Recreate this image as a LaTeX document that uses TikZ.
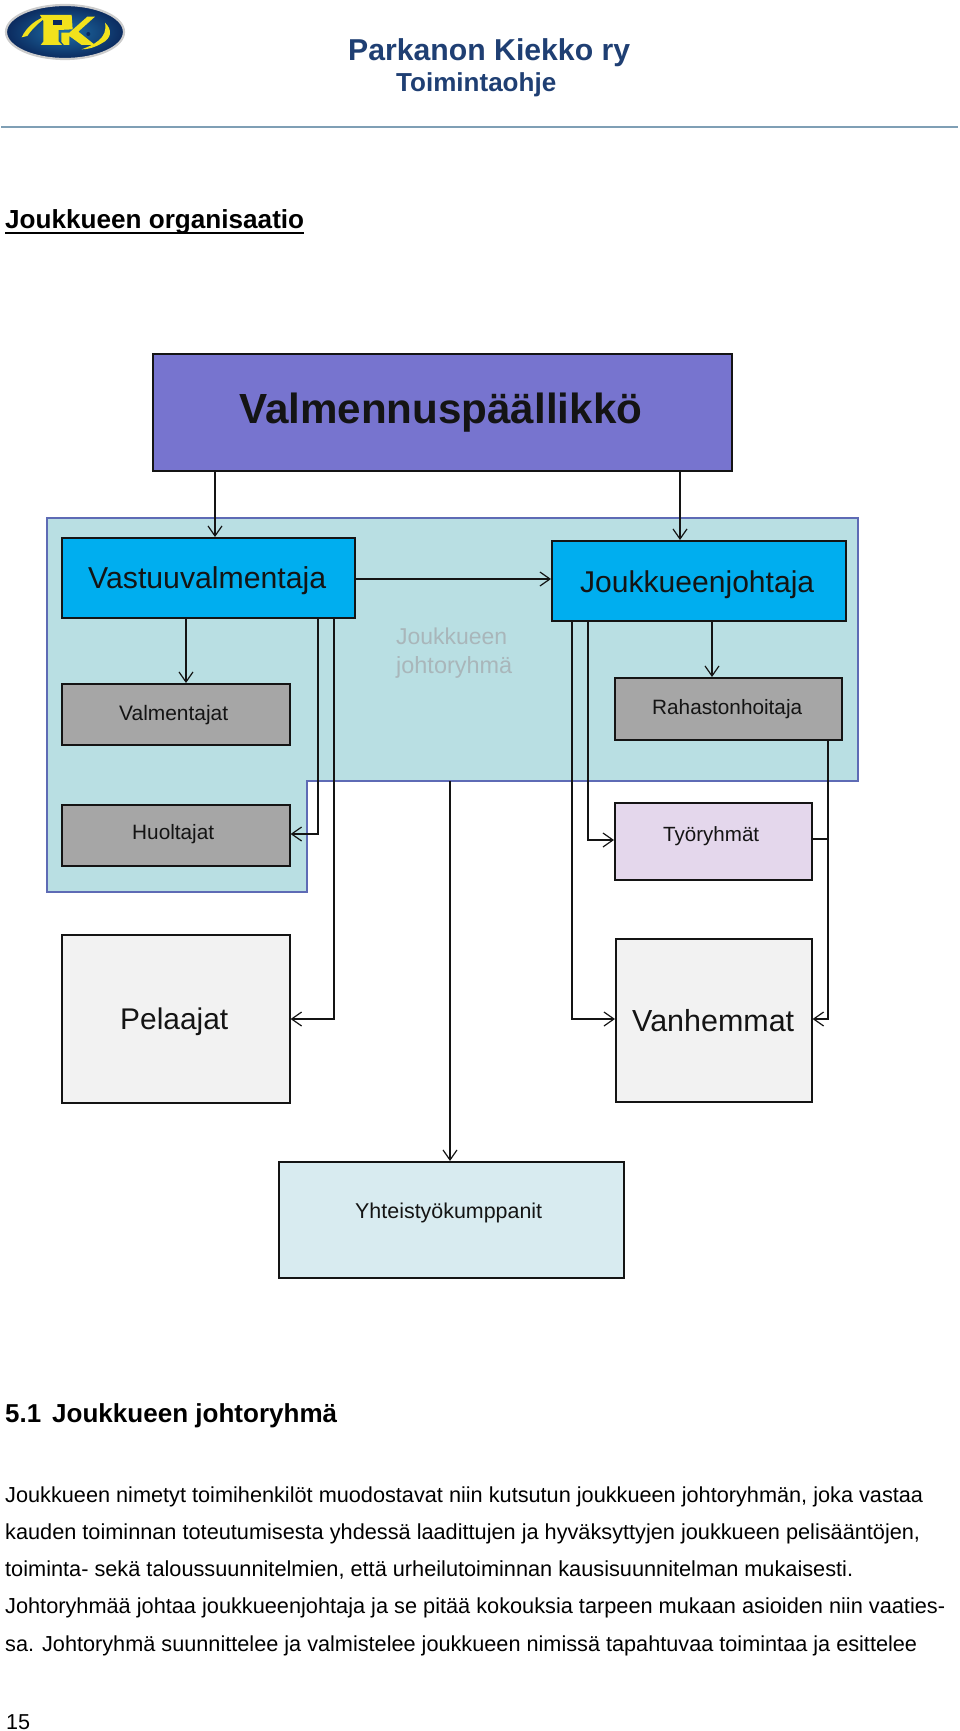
\documentclass[tikz,border=0pt]{standalone}
\usepackage{fontspec}
\setmainfont{Liberation Sans}
\usetikzlibrary{arrows.meta,calc,shapes.geometric}
\definecolor{headblue}{HTML}{1F3F73}
\definecolor{rulecol}{HTML}{7F9FB5}
\definecolor{purplebox}{HTML}{7774CF}
\definecolor{cyanbox}{HTML}{00AEEF}
\definecolor{groupfill}{HTML}{B9DFE3}
\definecolor{groupline}{HTML}{5E6BB5}
\definecolor{greybox}{HTML}{A6A6A6}
\definecolor{lilacbox}{HTML}{E4D7EC}
\definecolor{palebox}{HTML}{F2F2F2}
\definecolor{partnerbox}{HTML}{D8EBF0}
\definecolor{ghost}{HTML}{A9B6BA}
\definecolor{ink}{HTML}{141414}
\definecolor{logomid}{HTML}{1F6FA8}
\definecolor{logodark}{HTML}{0B2A5E}
\definecolor{logoyellow}{HTML}{F2E21C}
% #1 font switch, #2 target width (px), #3 text
\newcommand{\fitted}[3]{\setbox0=\hbox{#1\fontsize{10}{12}\selectfont #3}%
  \pgfmathsetmacro{\fsz}{10*(#2/\wd0)}%
  #1\fontsize{\fsz}{\fsz}\selectfont #3}
\tikzset{
  x=1pt,y=-1pt,
  boxbase/.style={draw=ink,line width=1.6pt,rectangle,inner sep=0pt,anchor=north west},
  lab/.style={anchor=base west,inner sep=0pt,text=ink},
  txt/.style={anchor=base west,inner sep=0pt,text=black},
  conn/.style={draw=ink,line width=1.4pt,-{Straight Barb[length=10pt,width=14pt,line width=1.2pt]}},
  plainconn/.style={draw=ink,line width=1.4pt},
}
\newcommand{\bx}[6]{% name, fill, x0, y0, x1, y1
  \pgfmathsetmacro{\bw}{#5-#3}\pgfmathsetmacro{\bh}{#6-#4}
  \node[boxbase,fill=#2,minimum width=\bw pt,minimum height=\bh pt] (#1) at (#3,#4) {};}
\begin{document}
\begin{tikzpicture}
\useasboundingbox (0,0) rectangle (960,1731);
% logo
\shade[inner color=logomid,outer color=logodark,draw=gray!40,line width=2.2pt] (65,32) ellipse (59 and 27);
\begin{scope}[x=0.3333pt,y=-0.3333pt,logoyellow]
\fill (65,112) .. controls (80,80) and (110,55) .. (150,45) .. controls (118,65) and (98,85) .. (82,108) -- cycle;
\fill (315,68) .. controls (338,90) and (335,115) .. (305,130) .. controls (285,142) and (265,148) .. (245,148) .. controls (280,135) and (325,115) .. (315,68) -- cycle;
\fill (120,45) -- (215,45) -- (218,88) -- (176,90) -- (176,125) -- (186,135) -- (122,135) -- (130,125) -- (130,62) -- cycle;
\fill[logodark] (160,60) rectangle (186,76);
\fill (184,98) -- (208,98) -- (262,50) -- (285,50) -- (235,95) -- (285,135) -- (245,135) -- (208,108) -- (208,135) -- (192,135) -- (184,125) -- cycle;
\fill[logodark] (265,102) circle (6);
\end{scope}
% header
\node[txt,text=headblue] (title) at (348,61) {\fitted{\bfseries}{282}{Parkanon Kiekko ry}};
\node[txt,text=headblue] (subtitle) at (396,92) {\fitted{\bfseries}{160}{Toimintaohje}};
\draw[rulecol,line width=1.3pt] (1,127) -- (958,127);
\node[txt] (heading) at (5,228) {\fitted{\bfseries}{299}{Joukkueen organisaatio}};
\draw[black,line width=2pt] (5,233) -- (304,233);
% group
\draw[fill=groupfill,draw=groupline,line width=1.3pt] (47,518) -- (858,518) -- (858,781) -- (307,781) -- (307,892) -- (47,892) -- cycle;
% boxes
\bx{valm}{purplebox}{152}{353}{731}{470}
\bx{vast}{cyanbox}{61}{537}{354}{617}
\bx{jouk}{cyanbox}{551}{540}{845}{620}
\bx{valt}{greybox}{61}{683}{289}{744}
\bx{huol}{greybox}{61}{804}{289}{865}
\bx{raha}{greybox}{614}{677}{841}{739}
\bx{tyor}{lilacbox}{614}{802}{811}{879}
\bx{pela}{palebox}{61}{934}{289}{1102}
\bx{vanh}{palebox}{615}{938}{811}{1101}
\bx{yhte}{partnerbox}{278}{1161}{623}{1277}
% box labels
\node[lab] (tvalm) at (239,423) {\fitted{\bfseries}{403}{Valmennuspäällikkö}};
\node[lab] (tvast) at (88,588) {\fitted{}{238}{Vastuuvalmentaja}};
\node[lab] (tjouk) at (580,592) {\fitted{}{234}{Joukkueenjohtaja}};
\node[lab] (tvalt) at (119,720) {\fitted{}{109}{Valmentajat}};
\node[lab] (thuol) at (132,839) {\fitted{}{82}{Huoltajat}};
\node[lab] (traha) at (652,714) {\fitted{}{150}{Rahastonhoitaja}};
\node[lab] (ttyor) at (663,841) {\fitted{}{96}{Työryhmät}};
\node[lab] (tpela) at (120,1029) {\fitted{}{108}{Pelaajat}};
\node[lab] (tvanh) at (632,1031) {\fitted{}{162}{Vanhemmat}};
\node[lab] (tyhte) at (355,1218) {\fitted{}{187}{Yhteistyökumppanit}};
\node[lab,text=ghost] (tg1) at (396,644) {\fitted{}{111}{Joukkueen}};
\node[lab,text=ghost] (tg2) at (396,673) {\fitted{}{116}{johtoryhmä}};
% connectors
\coordinate (gb) at (450,781);
\draw[conn] (valm.south -| 215,0) -- (vast.north -| 215,0);
\draw[conn] (valm.south -| 680,0) -- (jouk.north -| 680,0);
\draw[conn] (vast.east |- 0,579) -- (jouk.west |- 0,579);
\draw[conn] (vast.south -| 186,0) -- (valt.north -| 186,0);
\draw[conn] (vast.south -| 318,0) |- (huol.east |- 0,834);
\draw[conn] (vast.south -| 334,0) |- (pela.east |- 0,1019);
\draw[conn] (gb) -- (yhte.north -| gb);
\draw[conn] (jouk.south -| 712,0) -- (raha.north -| 712,0);
\draw[conn] (jouk.south -| 588,0) |- (tyor.west |- 0,840);
\draw[conn] (jouk.south -| 572,0) |- (vanh.west |- 0,1019);
\draw[conn] (raha.south -| 828,0) |- (vanh.east |- 0,1019);
\draw[plainconn] (tyor.east |- 0,839) -- (828,839);
% body text
\node[txt] (sec) at (5,1422) {\fitted{\bfseries}{36}{5.1}};
\node[txt] (sect) at (52,1422) {\fitted{\bfseries}{285}{Joukkueen johtoryhmä}};
\node[txt] (l1) at (5,1502) {\fitted{}{918}{Joukkueen nimetyt toimihenkilöt muodostavat niin kutsutun joukkueen johtoryhmän, joka vastaa}};
\node[txt] (l2) at (5,1539) {\fitted{}{915}{kauden toiminnan toteutumisesta yhdessä laadittujen ja hyväksyttyjen joukkueen pelisääntöjen,}};
\node[txt] (l3) at (5,1576) {\fitted{}{848}{toiminta- sekä taloussuunnitelmien, että urheilutoiminnan kausisuunnitelman mukaisesti.}};
\node[txt] (l4) at (5,1613) {\fitted{}{940}{Johtoryhmää johtaa joukkueenjohtaja ja se pitää kokouksia tarpeen mukaan asioiden niin vaaties-}};
\node[txt] (l5) at (5,1651) {\fitted{}{912}{sa. Johtoryhmä suunnittelee ja valmistelee joukkueen nimissä tapahtuvaa toimintaa ja esittelee}};
\node[txt] (pg) at (6,1729) {\fitted{}{24}{15}};
\end{tikzpicture}
\end{document}
